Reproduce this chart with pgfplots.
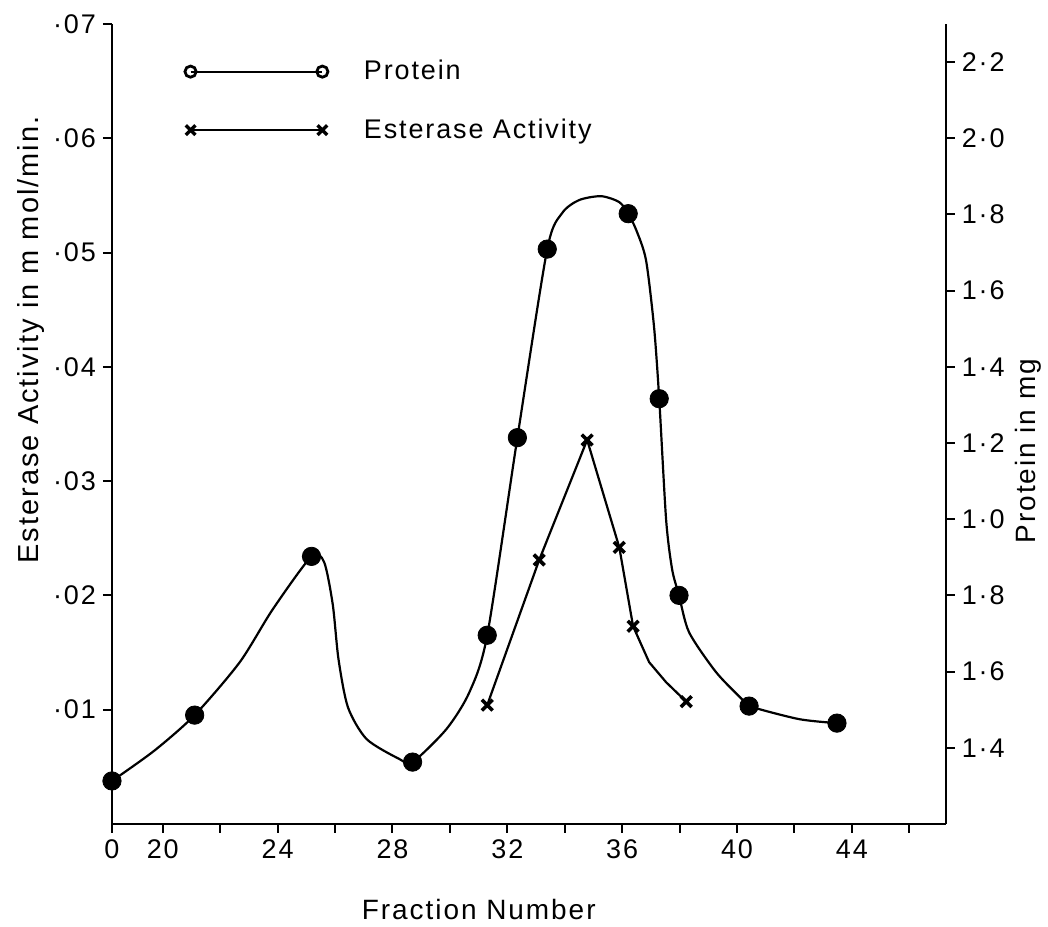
\documentclass[border=0pt]{standalone}
\usepackage{fontspec}
\setmainfont{Liberation Sans}[LetterSpace=7]
\usepackage{pgfplots}
\pgfplotsset{compat=1.18}
\pgfplotstableread{
x y
18.23 0.00376
19.70 0.00640
21.11 0.00952
22.68 0.01415
23.83 0.01878
25.18 0.02341
25.62 0.02290
25.92 0.01920
26.12 0.01441
26.45 0.01020
27.10 0.00742
28.24 0.00568
28.70 0.00541
29.88 0.00830
30.68 0.01153
31.30 0.01651
32.35 0.03380
33.39 0.05030
33.91 0.05345
34.50 0.05459
35.27 0.05493
35.90 0.05441
36.21 0.05340
36.49 0.05197
36.83 0.04934
37.11 0.04349
37.29 0.03721
37.53 0.02664
37.74 0.02227
37.98 0.02000
38.33 0.01677
39.27 0.01328
40.17 0.01092
40.42 0.01031
42.16 0.00917
43.48 0.00882
}\proteincurve
\pgfplotstableread{
x y
18.23 0.00376
21.11 0.00952
25.18 0.02341
28.70 0.00541
31.30 0.01651
32.35 0.03380
33.39 0.05030
36.21 0.05340
37.29 0.03721
37.98 0.02000
40.42 0.01031
43.48 0.00882
}\proteinpts
\pgfplotstableread{
x y
31.30 0.0104
33.11 0.0231
34.78 0.0336
35.90 0.0242
36.38 0.0173
36.66 0.01572
36.94 0.01415
37.53 0.0124
38.23 0.0107
}\esteraseline
\pgfplotstableread{
x y
31.30 0.0104
33.11 0.0231
34.78 0.0336
35.90 0.0242
36.38 0.0173
38.23 0.0107
}\esterasepts
\begin{document}
\begin{tikzpicture}
\pgfplotsset{
  every axis/.append style={
    width=417.5pt, height=400.5pt, scale only axis,
    xmin=18.226, xmax=47.27,
    axis line style={line width=1.1pt},
    tick style={line width=1pt, black},
    tick align=outside,
    major tick length=4.5pt,
    minor tick length=4.5pt,
    scaled y ticks=false,
    tick label style={font=\fontsize{13.5}{15}\selectfont},
    label style={font=\fontsize{14}{16}\selectfont},
  }
}
\begin{axis}[
  at={(0,0)}, anchor=south west,
  ymin=0, ymax=0.07,
  axis x line*=bottom, axis y line*=left,
  xtick={18.226,20,24,28,32,36,40,44},
  xticklabels={0,20,24,28,32,36,40,44},
  minor xtick={22,26,30,34,38,42,46},
  ytick={0.01,0.02,0.03,0.04,0.05,0.06,0.07},
  yticklabels={·01,·02,·03,·04,·05,·06,·07},
  xlabel={Fraction Number},
  ylabel={Esterase Activity in m mol/min.},
  xlabel style={at={(axis description cs:0.44,-0.107)}, anchor=center},
  ylabel style={at={(axis description cs:-0.097,0.605)}, anchor=center, font=\fontsize{14.5}{16}\selectfont},
  legend image code/.code={\draw[#1] plot coordinates {(0pt,0pt) (66pt,0pt)};},
  legend style={draw=none, fill=none, at={(axis description cs:0.08,0.965)}, anchor=north west,
    font=\fontsize{13.5}{15}\selectfont, row sep=14pt,
    /tikz/every odd column/.append style={column sep=16pt}},
  legend cell align=left,
]
\addlegendimage{black, line width=1pt, mark=o, mark size=2.8pt, mark options={line width=1.4pt}}
\addlegendentry{Protein}
\addlegendimage{black, line width=1pt, mark=x, mark size=3.4pt, mark options={line width=1.7pt}}
\addlegendentry{Esterase Activity}
\addplot[black, line width=1.1pt, smooth, tension=0.45, forget plot] table {\proteincurve};
\addplot[only marks, mark=*, mark size=4.6pt, black, forget plot] table {\proteinpts};
\addplot[black, line width=1.1pt, forget plot] table {\esteraseline};
\addplot[only marks, mark=x, mark size=3.8pt, black, mark options={line width=1.8pt}, forget plot] table {\esterasepts};
\end{axis}
\begin{axis}[
  at={(0,0)}, anchor=south west,
  ymin=0.2, ymax=2.30,
  axis y line*=right, axis x line=none,
  ytick={0.4,0.6,0.8,1.0,1.2,1.4,1.6,1.8,2.0,2.2},
  yticklabels={1·4,1·6,1·8,1·0,1·2,1·4,1·6,1·8,2·0,2·2},
  ylabel={Protein in mg},
  ylabel style={at={(axis description cs:1.099,0.466)}, anchor=center},
]
\end{axis}
\path (-56pt,-49pt) rectangle (468pt,412.5pt);
\end{tikzpicture}
\end{document}
